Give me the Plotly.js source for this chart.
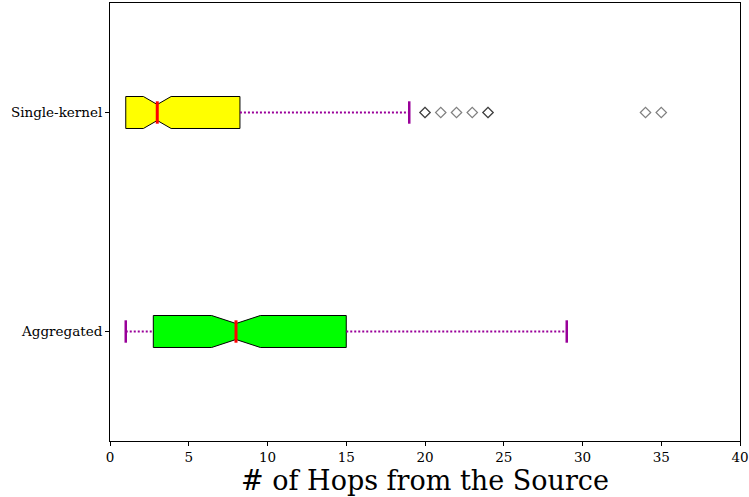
<!DOCTYPE html>
<html>
<head>
<meta charset="utf-8">
<script src="https://cdn.plot.ly/plotly-3.0.1.min.js"></script>
<style>html,body{margin:0;padding:0;background:#fff;}#chart{width:749px;height:497px;}</style>
</head>
<body>
<div id="chart"></div>
<script>
// Data
const categories = ['Single-kernel', 'Aggregated'];
const q1Values = [1, 2.75];
const medianValues = [3, 8];
const q3Values = [8.25, 15];
const lowerWhisker = [1, 1];
const upperWhisker = [19, 29];
const notchSpans = [0.88, 1.55];
const boxColors = ['#ffff00', '#00ff00'];
const outliersSingle = [20, 20, 21, 22, 23, 24, 24, 34, 35];
const outliersAggregated = [];

const serif = 'DejaVu Serif, serif';
const whiskerColor = '#990099';
const traces = [];

categories.forEach((cat, i) => {
  traces.push({
    type: 'box', orientation: 'h',
    y: [cat],
    q1: [q1Values[i]], median: [medianValues[i]], q3: [q3Values[i]],
    lowerfence: [q1Values[i]], upperfence: [q3Values[i]],
    notchspan: [notchSpans[i]], notched: true, notchwidth: 0.25,
    width: 0.146, whiskerwidth: 0,
    fillcolor: boxColors[i],
    line: {color: '#000000', width: 1},
    boxpoints: false, hoverinfo: 'skip', showlegend: false
  });
});

// whiskers (dotted)
const wx = [], wy = [];
categories.forEach((cat, i) => {
  wx.push(lowerWhisker[i], q1Values[i], null, q3Values[i], upperWhisker[i], null);
  wy.push(cat, cat, null, cat, cat, null);
});
traces.push({type: 'scatter', mode: 'lines', x: wx, y: wy,
  line: {color: whiskerColor, width: 2, dash: '2px,2px'}, showlegend: false, hoverinfo: 'skip'});

// caps (a cap that sits on the box edge is hidden behind the box in the original)
const cx = [], cy = [];
categories.forEach((cat, i) => {
  if (lowerWhisker[i] < q1Values[i]) { cx.push(lowerWhisker[i]); cy.push(cat); }
  if (upperWhisker[i] > q3Values[i]) { cx.push(upperWhisker[i]); cy.push(cat); }
});
traces.push({type: 'scatter', mode: 'markers', x: cx, y: cy,
  marker: {symbol: 'line-ns', size: 16, line: {color: whiskerColor, width: 2.5}},
  showlegend: false, hoverinfo: 'skip'});

// medians
traces.push({type: 'scatter', mode: 'markers', x: medianValues, y: categories,
  marker: {symbol: 'line-ns', size: 16, line: {color: '#ff0000', width: 3}},
  showlegend: false, hoverinfo: 'skip'});

// outliers
traces.push({type: 'scatter', mode: 'markers',
  x: outliersSingle.concat(outliersAggregated),
  y: outliersSingle.map(() => categories[0]).concat(outliersAggregated.map(() => categories[1])),
  marker: {symbol: 'diamond-open', size: 8, color: 'rgba(0,0,0,0.5)', line: {width: 1.2}},
  showlegend: false, hoverinfo: 'skip'});

const layout = {
  width: 749, height: 497,
  margin: {l: 110, r: 9, t: 3, b: 56},
  paper_bgcolor: '#ffffff', plot_bgcolor: '#ffffff',
  showlegend: false,
  font: {family: serif, color: '#000000'},
  xaxis: {
    range: [0, 40], dtick: 5, tick0: 0,
    showgrid: false, zeroline: false,
    showline: true, linecolor: '#000000', linewidth: 1, mirror: true,
    ticks: 'outside', ticklen: 4, tickcolor: '#000000',
    tickfont: {family: serif, size: 13.5},
    title: {text: '# of Hops from the Source', font: {family: serif, size: 27}, standoff: 4}
  },
  yaxis: {
    type: 'category', categoryorder: 'array', categoryarray: ['Aggregated', 'Single-kernel'],
    range: [-0.5, 1.5],
    showgrid: false, zeroline: false,
    showline: true, linecolor: '#000000', linewidth: 1, mirror: true,
    ticks: 'outside', ticklen: 4, tickcolor: '#000000',
    tickfont: {family: serif, size: 13.5}
  }
};

Plotly.newPlot('chart', traces, layout, {displayModeBar: false, staticPlot: true});
</script>
</body>
</html>
